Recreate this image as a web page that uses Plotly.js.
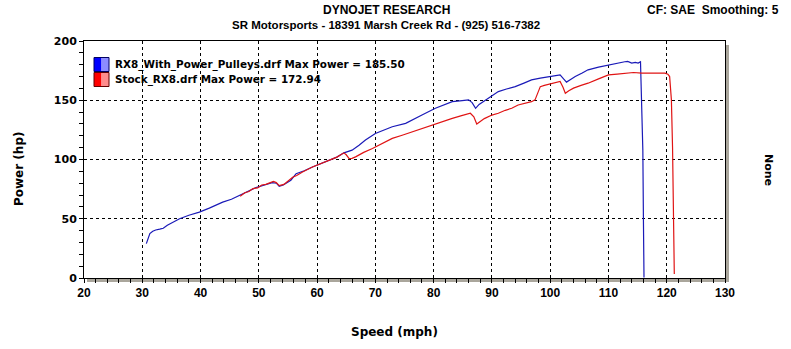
<!DOCTYPE html>
<html>
<head>
<meta charset="utf-8">
<script src="https://cdn.plot.ly/plotly-3.0.1.min.js"></script>
<style>html,body{margin:0;padding:0;background:#fff;}#chart{width:791px;height:349px;}</style>
</head>
<body>
<div id="chart"></div>
<script>
// Series 1: RX8_With_Power_Pulleys.drf
const pulleySpeed = [30.7,31.0,31.3,31.8,32.3,33.0,33.6,34.3,35.2,36.4,38.0,39.8,41.5,43.8,45.3,46.6,48.0,49.5,51.0,52.3,53.0,53.5,54.2,55.5,56.4,57.8,59.2,60.6,62.1,63.4,64.6,66.0,67.2,68.3,70.0,71.5,72.9,75.2,76.5,78.0,80.3,81.8,83.2,84.5,86.0,86.6,87.2,87.8,88.9,90.0,91.1,92.5,94.0,95.5,96.8,98.3,99.7,101.0,101.7,102.3,102.8,103.5,104.3,105.5,106.5,108.3,110.0,111.5,112.8,113.3,114.0,114.6,115.1,115.5,115.6,115.7,115.9,116.0,116.1];
const pulleyPower = [29,34,37.5,39.5,40.5,41.2,42,44.5,47,50,53,55.6,59,64,66.5,69.7,73,76.3,78.5,80.5,80,77.4,78.5,82.5,88,90.5,93.7,96.5,99.4,102,105.6,107.9,112,116.4,122,125,127.6,130.5,133.5,137.5,143.2,146,148.8,149.5,150.3,148,143.2,146.5,150.3,154,157.3,159.5,161.5,164.5,167.2,168.6,170,170.8,171.4,168,165.3,167.5,170,173,175.7,178,179.9,181,182.5,182.8,181.4,182,181.4,182.5,165,150,108,50,0.5];
// Series 2: Stock_RX8.drf
const stockSpeed = [46.8,47.6,48.3,49.0,49.8,50.5,51.2,52.0,52.5,53.0,53.5,54.3,55.0,55.8,56.5,57.5,59.2,60.6,62.1,63.4,64.6,65.0,65.5,66.0,66.6,68.0,69.5,71.2,72.9,74.6,76.3,78.0,79.7,81.5,83.2,84.8,86.3,86.9,87.4,88.0,88.7,90.0,91.1,92.3,93.4,94.5,95.8,96.8,97.4,97.9,98.3,99.0,99.7,100.7,101.7,102.2,102.6,103.2,104.0,105.3,106.5,108.3,110.0,111.5,112.8,114.3,115.7,116.8,118.0,119.0,119.7,120.2,120.5,120.7,120.8,121.0,121.1,121.2,121.3];
const stockPower = [69,72,73,75.5,76,78.5,79,80.5,81.5,80.5,78,79,82,85,86.5,89.5,93.7,96.5,99.4,102,105.6,104,100.8,101,102.2,106,109.3,113.5,117.8,120.5,123.4,126,129.1,132,134.7,137,139,136,129.9,132,134.5,137.5,139,141.5,143.2,146,147.5,148.8,150.3,156,161.5,162.5,163.5,164.5,165.8,161,155.9,158,160.2,162.5,164.4,168,171.4,172,172.9,173.4,172.9,173,173.4,172.9,172.9,172,170,160,150.3,110,79.7,40,3.4];

const seriesNames = ["RX8_With_Power_Pulleys.drf", "Stock_RX8.drf"];
const maxPower = ["185.50", "172.94"];
const xTickVals = [20,30,40,50,60,70,80,90,100,110,120,130];
const yTickVals = [0,50,100,150,200];

const L = 84, R = 66, T = 41, B = 71, Wd = 791, Ht = 349;
const W = Wd - L - R, H = Ht - T - B;
const px = x => (x - L) / W;
const py = y => (Ht - B - y) / H;

const blue = '#1a1ab8', red = '#e01414';
const traces = [
  {x: pulleySpeed, y: pulleyPower, mode: 'lines', line: {color: blue, width: 1.2}, name: seriesNames[0], hoverinfo: 'skip'},
  {x: stockSpeed, y: stockPower, mode: 'lines', line: {color: red, width: 1.2}, name: seriesNames[1], hoverinfo: 'skip'}
];

const shadow = '#aaa69c';
const shapes = [
  {type: 'rect', xref: 'paper', yref: 'paper', x0: px(725), x1: px(729), y0: py(282), y1: py(45), fillcolor: shadow, line: {width: 0}, layer: 'below'},
  {type: 'rect', xref: 'paper', yref: 'paper', x0: px(87), x1: px(729), y0: py(282), y1: py(278), fillcolor: shadow, line: {width: 0}, layer: 'below'},
  // legend swatches
  {type: 'rect', xref: 'paper', yref: 'paper', x0: px(94), x1: px(101.5), y0: py(71.5), y1: py(57.5), fillcolor: '#0000ff', line: {width: 0}},
  {type: 'rect', xref: 'paper', yref: 'paper', x0: px(101.5), x1: px(109), y0: py(71.5), y1: py(57.5), fillcolor: '#8c8cff', line: {width: 0}},
  {type: 'rect', xref: 'paper', yref: 'paper', x0: px(94), x1: px(109), y0: py(71.5), y1: py(57.5), fillcolor: 'rgba(0,0,0,0)', line: {width: 1, color: '#000060'}},
  {type: 'rect', xref: 'paper', yref: 'paper', x0: px(94), x1: px(101.5), y0: py(86.5), y1: py(72.5), fillcolor: '#ff0000', line: {width: 0}},
  {type: 'rect', xref: 'paper', yref: 'paper', x0: px(101.5), x1: px(109), y0: py(86.5), y1: py(72.5), fillcolor: '#ff8c8c', line: {width: 0}},
  {type: 'rect', xref: 'paper', yref: 'paper', x0: px(94), x1: px(109), y0: py(86.5), y1: py(72.5), fillcolor: 'rgba(0,0,0,0)', line: {width: 1, color: '#600000'}}
];

const boldFont = (size, fam) => ({family: fam || 'Liberation Sans, Arial, sans-serif', size: size, color: '#000', weight: 'bold'});
const verd = 'DejaVu Sans, Verdana, sans-serif';

const annotations = [
  {text: 'DYNOJET RESEARCH', xref: 'paper', yref: 'paper', x: px(386), y: py(10), xanchor: 'center', yanchor: 'middle', showarrow: false, font: boldFont(12)},
  {text: 'SR Motorsports - 18391 Marsh Creek Rd - (925) 516-7382', xref: 'paper', yref: 'paper', x: px(386), y: py(25), xanchor: 'center', yanchor: 'middle', showarrow: false, font: boldFont(11.5)},
  {text: 'CF: SAE&nbsp;&nbsp;Smoothing: 5', xref: 'paper', yref: 'paper', x: px(781), y: py(10), xanchor: 'right', yanchor: 'middle', showarrow: false, font: boldFont(12)},
  {text: seriesNames[0] + ' Max Power = ' + maxPower[0], xref: 'paper', yref: 'paper', x: px(113), y: py(64.5), xanchor: 'left', yanchor: 'middle', showarrow: false, font: boldFont(10.4, verd)},
  {text: seriesNames[1] + ' Max Power = ' + maxPower[1], xref: 'paper', yref: 'paper', x: px(113), y: py(79.5), xanchor: 'left', yanchor: 'middle', showarrow: false, font: boldFont(10.4, verd)},
  {text: 'None', xref: 'paper', yref: 'paper', x: px(769), y: py(170), xanchor: 'center', yanchor: 'middle', textangle: 90, showarrow: false, font: boldFont(11, verd)},
  {text: 'Power (hp)', xref: 'paper', yref: 'paper', x: px(19), y: py(169), xanchor: 'center', yanchor: 'middle', textangle: -90, showarrow: false, font: boldFont(12, verd)},
  {text: 'Speed (mph)', xref: 'paper', yref: 'paper', x: px(394), y: py(332), xanchor: 'center', yanchor: 'middle', showarrow: false, font: boldFont(12, verd)}
];

const layout = {
  width: Wd, height: Ht,
  margin: {l: L, r: R, t: T, b: B, pad: 0},
  paper_bgcolor: '#ffffff', plot_bgcolor: '#ffffff',
  showlegend: false,
  xaxis: {
    range: [20, 130], tickvals: xTickVals, ticktext: xTickVals.map(String),
    showgrid: true, gridcolor: '#000', gridwidth: 1, griddash: '3px,3px',
    zeroline: false, showline: true, linecolor: '#000', linewidth: 1, mirror: true,
    ticks: 'outside', ticklen: 4, tickcolor: '#000', tickwidth: 1,
    minor: {dtick: 2, ticks: 'outside', ticklen: 4, tickcolor: '#000', showgrid: false},
    tickfont: boldFont(12, 'Liberation Sans Narrow, Liberation Sans, Arial, sans-serif'),
    fixedrange: true
  },
  yaxis: {
    range: [0, 200], tickvals: yTickVals, ticktext: yTickVals.map(String),
    showgrid: true, gridcolor: '#000', gridwidth: 1, griddash: '3px,3px',
    zeroline: false, showline: true, linecolor: '#000', linewidth: 1, mirror: true,
    ticks: 'outside', ticklen: 4, tickcolor: '#000', tickwidth: 1,
    minor: {dtick: 10, ticks: 'outside', ticklen: 4, tickcolor: '#000', showgrid: false},
    tickfont: boldFont(11, verd),
    fixedrange: true
  },
  shapes: shapes,
  annotations: annotations
};

Plotly.newPlot('chart', traces, layout, {displayModeBar: false, staticPlot: true});
</script>
</body>
</html>
